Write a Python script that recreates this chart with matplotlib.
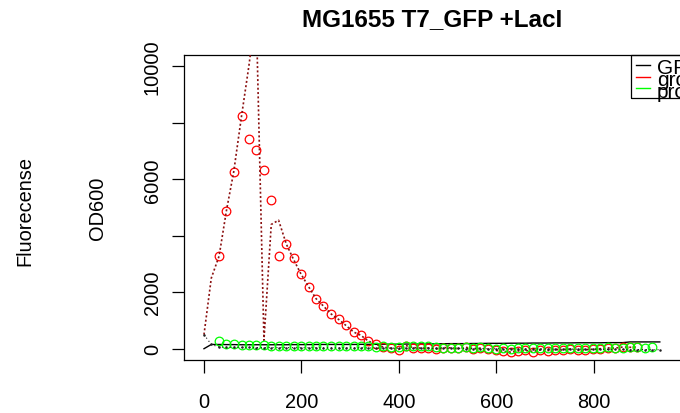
"""
Fluorescence / growth time course for MG1655 T7_GFP +LacI (base-R style plot).
"""
import numpy as np
import matplotlib
matplotlib.use("Agg")
import matplotlib.pyplot as plt
from matplotlib.patches import Rectangle
from matplotlib.lines import Line2D

nan = np.nan

# time points (min)
time_min = [0, 15, 31, 46, 61, 77, 92, 107, 123, 138, 153, 169, 184, 199, 215, 230,
            245, 261, 276, 291, 307, 322, 337, 353, 368, 383, 399, 414, 429, 445,
            460, 475, 491, 506, 521, 537, 552, 567, 583, 598, 613, 629, 644, 659,
            675, 690, 705, 721, 736, 751, 767, 782, 797, 813, 828, 843, 859, 874,
            889, 905, 920, 935]

gfp = [0, 150, 150, 145, 145, 140, 140, 140, 140, 140, 140, 140, 145, 145, 145, 150,
       150, 150, 150, 150, 150, 155, 155, 155, 160, 160, 160, 165, 165, 170, 170,
       175, 175, 180, 180, 180, 185, 185, 190, 190, 190, 195, 195, 195, 200, 200,
       200, 205, 205, 205, 210, 210, 210, 210, 215, 215, 215, 240, 240, 240, 240, 240]

growth_pts = [nan, nan, 3280, 4885, 6265, 8235, 7410, 7045, 6313, 5250, 3292, 3693,
              3197, 2643, 2183, 1770, 1510, 1227, 1038, 825, 590, 472, 272, 153, 60,
              20, -30, 110, 40, 20, 30, -10, 40, 30, 10, 50, 0, 20, -20, -60, -90,
              -120, -80, -60, -100, -40, -70, -30, -50, -10, -60, -40, -20, 0, 30,
              20, 60, 50, 60, nan, nan, nan]

growth_line = [500, 2500, 3280, 4885, 6265, 8235, 10000, 12000, 300, 4400, 4550, 3700,
               3150, 2643, 2183, 1770, 1510, 1227, 1038, 825, 590, 472, 272, 153, 60,
               20, -30, 110, 40, 20, 30, -10, 40, 30, 10, 50, 0, 20, -20, -60, -90,
               -120, -80, -60, -100, -40, -70, -30, -50, -10, -60, -40, -20, 0, 30,
               20, 60, 50, 60, nan, nan, nan]

prod_pts = [nan, nan, 280, 170, 150, 140, 130, 120, 140, 110, 100, 100, 100, 110, 100,
            110, 100, 100, 100, 90, 80, 80, 90, 70, 90, 60, 70, 100, 90, 110, 80, 60,
            40, 30, 40, 50, 30, 60, 20, 0, 10, -10, 10, 20, 30, 40, 10, 30, 20, 40,
            30, 10, 40, 30, 50, 40, 30, 60, 50, 40, 60, nan]

od600 = [500, 150, 60, 50, 50, 45, 45, 40, 40, 40, 40, 40, 35, 35, 35, 35, 30, 30, 30,
         30, 30, 30, 25, 25, 25, 20, 20, 20, 20, 15, 15, 15, 10, 10, 10, 5, 5, 5, 0, 0,
         0, 0, -5, -5, -5, -10, -10, -10, -15, -15, -15, -20, -20, -20, -25, -25, -25,
         -30, -30, -30, -35, -35]

y_ticks = [0, 2000, 4000, 6000, 8000, 10000]
y_tick_labels = ["0", "2000", "", "6000", "", "10000"]  # R drops the crowded ones
x_ticks = [0, 200, 400, 600, 800]

legend_labels = ["GFP", "growth", "production"]
legend_colors = ["black", "#FF0000", "#00FF00"]

W, H = 680, 414
plt.rcParams["font.family"] = ["Liberation Sans", "DejaVu Sans"]
fig = plt.figure(figsize=(W / 100, H / 100), dpi=100)

# plot region in pixels: left 184, top 56, bottom 361, right past the image edge
left, top, bottom, right = 184, 56, 361, 687
ax = fig.add_axes([left / W, 1 - bottom / H, (right - left) / W, (bottom - top) / H])

x0 = -41
ax.set_xlim(x0, x0 + (right - left) / 0.4875)
ax.set_ylim(-400, 10400)

ax.plot(time_min, gfp, color="black", lw=1.0, zorder=2)
ax.plot(time_min, growth_pts, ls="none", marker="o", ms=6.2, mfc="none",
        mec="#FF0000", mew=0.9, zorder=3)
ax.plot(time_min, growth_line, color="#8B1010", lw=1.2, ls=(0, (1.2, 1.4)), zorder=4)
ax.plot(time_min, prod_pts, ls="none", marker="o", ms=6.2, mfc="none",
        mec="#00FF00", mew=0.9, zorder=5)
ax.plot(time_min, od600, color="#222222", lw=0.8, ls=(0, (1, 2.5)), marker=".",
        ms=1.6, zorder=6)

ax.set_xticks(x_ticks)
ax.set_yticks(y_ticks)
ax.set_yticklabels(y_tick_labels)
ax.tick_params(axis="both", direction="out", length=9, width=0.9, labelsize=14.4,
               colors="black", pad=14)
for lab in ax.get_yticklabels():
    lab.set_rotation(90)
    lab.set_va("center")
ax.tick_params(axis="y", pad=7)
for s in ["left", "bottom", "top"]:
    ax.spines[s].set_linewidth(0.9)
ax.spines["right"].set_visible(False)

fig.text(25 / W, 1 - 211 / H, "Fluorecense", rotation=90, fontsize=14.4,
         ha="center", va="center")
fig.text(98 / W, 1 - 208 / H, "OD600", rotation=90, fontsize=14.4,
         ha="center", va="center")
fig.text(432 / W, 1 - 20 / H, "MG1655 T7_GFP +LacI", fontsize=17.5,
         fontweight="bold", ha="center", va="center")

# legend drawn as in base R, box runs off the right edge
fig.patches.append(Rectangle((631 / W, 1 - 99 / H), 80 / W, 43 / H,
                             transform=fig.transFigure, fill=False,
                             edgecolor="black", lw=0.9, zorder=10))
for yy, lab, col in zip([66, 77.5, 89], legend_labels, legend_colors):
    fig.lines.append(Line2D([636 / W, 650 / W], [1 - yy / H, 1 - yy / H],
                            transform=fig.transFigure, color=col, lw=1.0))
    fig.text(657 / W, 1 - (yy + 3) / H, lab, fontsize=15, ha="left", va="center")

fig.savefig("out.png", dpi=100)
